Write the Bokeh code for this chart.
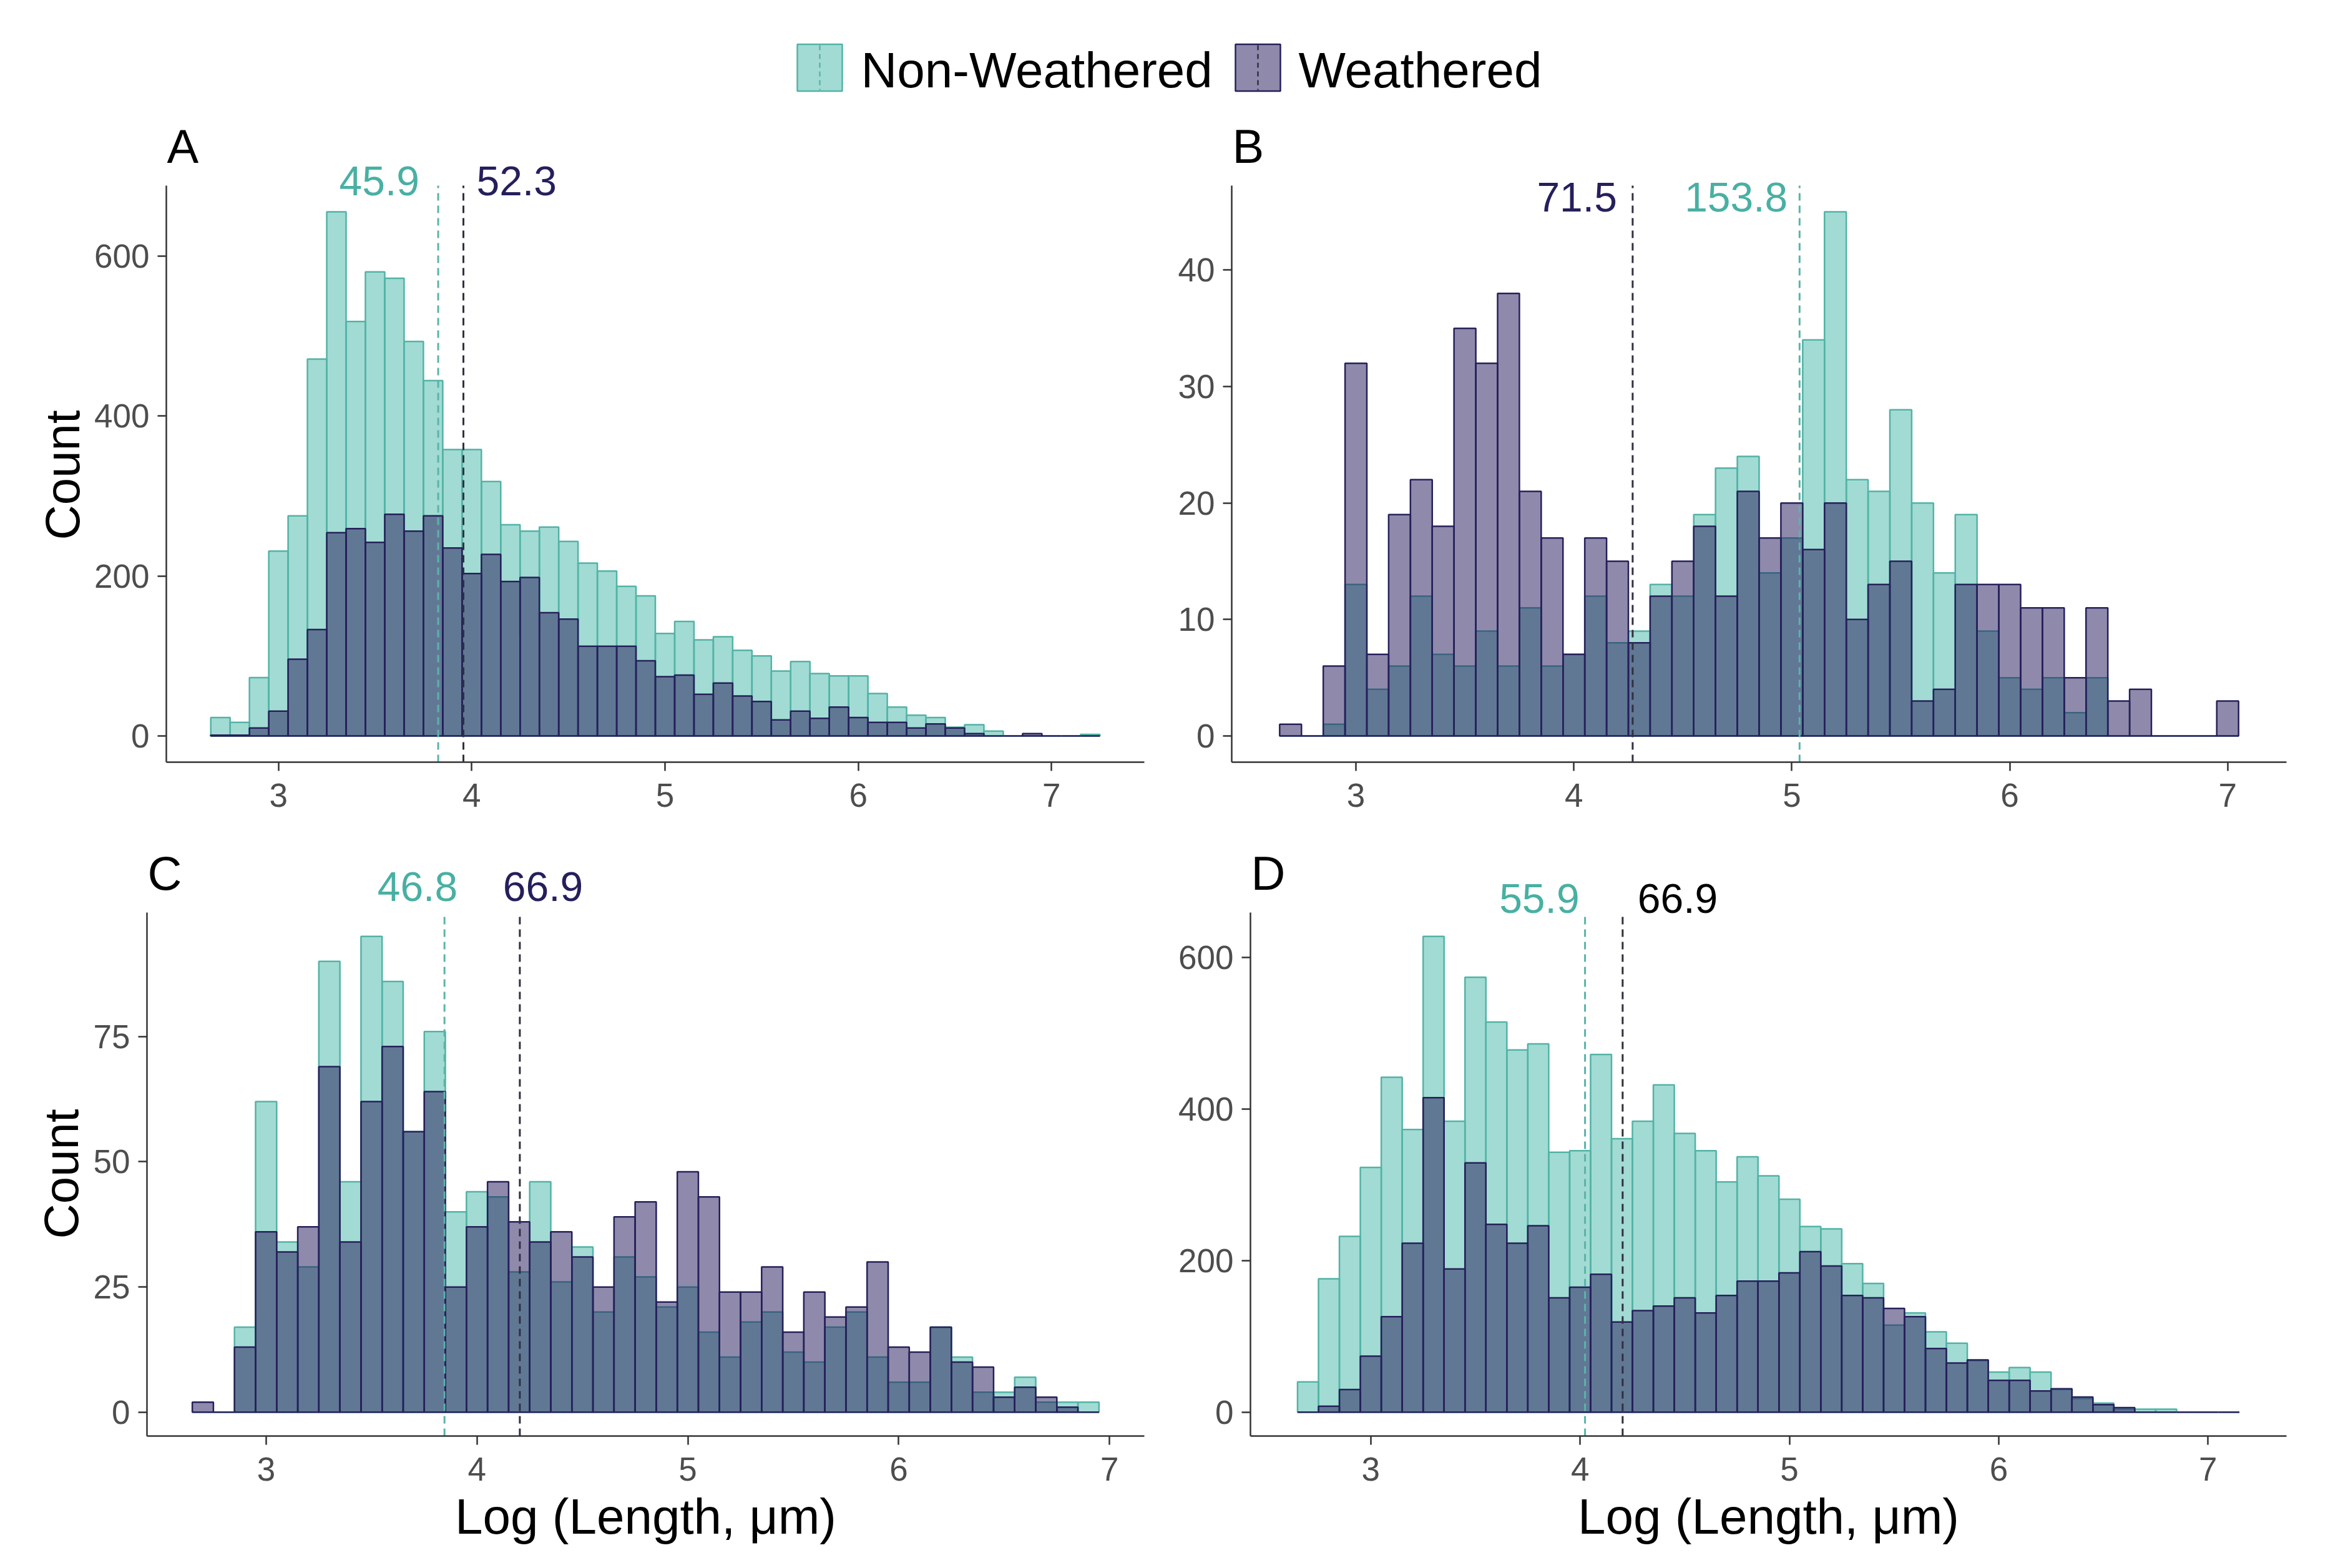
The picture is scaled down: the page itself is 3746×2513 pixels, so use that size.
import numpy as np
from bokeh.plotting import figure
from bokeh.models import Range1d, Label, FixedTicker, ColumnDataSource, Title
from bokeh.layouts import column, row
from bokeh.core.properties import value
from bokeh.embed import file_html
from bokeh.resources import INLINE

# ---------------- data (counts per 0.1-wide bin of log length, first bin 2.65-2.75) ----------------
BIN_START = 2.65
BIN_WIDTH = 0.1

a_nonweathered = [23, 17, 73, 231, 275, 471, 655, 518, 580, 572, 493, 444, 358, 358, 318, 264, 256, 261,
                  243, 216, 206, 187, 175, 128, 143, 120, 124, 107, 100, 81, 93, 78, 75, 75, 53, 36, 26,
                  23, 11, 14, 6, 0, 0, 0, 0, 2]
a_weathered = [1, 1, 10, 31, 96, 133, 254, 259, 242, 277, 256, 275, 235, 203, 227, 193, 198, 154, 146,
               112, 112, 112, 94, 74, 76, 52, 66, 50, 43, 20, 31, 22, 36, 23, 17, 17, 10, 15, 10, 3, 0,
               0, 3, 0, 0, 0]

b_nonweathered = [0, 0, 1, 13, 4, 6, 12, 7, 6, 9, 6, 11, 6, 7, 12, 8, 9, 13, 12, 19, 23, 24, 14, 17, 34,
                  45, 22, 21, 28, 20, 14, 19, 9, 5, 4, 5, 2, 5, 0, 0, 0, 0, 0, 0]
b_weathered = [1, 0, 6, 32, 7, 19, 22, 18, 35, 32, 38, 21, 17, 7, 17, 15, 8, 12, 15, 18, 12, 21, 17, 20,
               16, 20, 10, 13, 15, 3, 4, 13, 13, 13, 11, 11, 5, 11, 3, 4, 0, 0, 0, 3]

c_nonweathered = [0, 0, 17, 62, 34, 29, 90, 46, 95, 86, 56, 76, 40, 44, 43, 28, 46, 26, 33, 20, 31, 27,
                  21, 25, 16, 11, 18, 20, 12, 10, 17, 20, 11, 6, 6, 17, 11, 4, 4, 7, 2, 2, 2]
c_weathered = [2, 0, 13, 36, 32, 37, 69, 34, 62, 73, 56, 64, 25, 37, 46, 38, 34, 36, 31, 25, 39, 42, 22,
               48, 43, 24, 24, 29, 16, 24, 19, 21, 30, 13, 12, 17, 10, 9, 3, 5, 3, 1, 0]

d_nonweathered = [40, 176, 232, 323, 442, 373, 628, 384, 574, 515, 478, 486, 343, 345, 472, 361, 384, 432,
                  368, 345, 304, 337, 312, 281, 245, 242, 196, 170, 115, 131, 106, 91, 68, 53, 59, 53, 30,
                  18, 12, 4, 4, 4, 0, 0, 0]
d_weathered = [0, 8, 30, 74, 126, 223, 415, 189, 329, 248, 223, 246, 151, 165, 182, 119, 134, 140, 151,
               131, 154, 173, 173, 184, 212, 193, 154, 151, 137, 126, 84, 65, 69, 42, 42, 28, 31, 20, 10,
               6, 0, 0, 0, 0, 0]

# median lengths (µm) shown in each panel: (Non-Weathered, Weathered)
medians_a = [45.9, 52.3]
medians_b = [153.8, 71.5]
medians_c = [46.8, 66.9]
medians_d = [55.9, 66.9]

x_ticks = [3, 4, 5, 6, 7]
y_ticks_a = [0, 200, 400, 600]
y_ticks_b = [0, 10, 20, 30, 40]
y_ticks_c = [0, 25, 50, 75]
y_ticks_d = [0, 200, 400, 600]

series_names = ["Non-Weathered", "Weathered"]
x_title = "Log (Length, μm)"
y_title = "Count"

# ---------------- styles ----------------
FONT = "Liberation Sans"
TEAL = "#45b7a7"
TEAL_LINE = "#52b3a6"
NAVY = "#1f1557"
NAVY_LINE = "#25205a"
TEAL_TEXT = "#48b0a3"
NAVY_TEXT = "#251f5c"
AXIS_COL = "#333333"
TICK_TEXT = "#4d4d4d"
DASH_TEAL = "#5ab4a9"
DASH_DARK = "#303040"


def make_panel(nw, w, meds, yticks, letter, width, height, bl, bt, br, bb, axis_px, ext_px,
               label_specs, ylab_offset=None, xlab=False):
    n = len(nw)
    left = [BIN_START + i * BIN_WIDTH for i in range(n)]
    right = [l + BIN_WIDTH for l in left]
    lo, hi = BIN_START, BIN_START + n * BIN_WIDTH
    pad = 0.05 * (hi - lo)
    ymax = max(max(nw), max(w))
    ybot, ytop = -0.05 * ymax, 1.05 * ymax
    yend = ytop + ext_px * (ytop - ybot) / axis_px   # room above the axis for annotations
    p = figure(width=width, height=height, output_backend="svg", toolbar_location=None,
               x_range=Range1d(lo - pad, hi + pad), y_range=Range1d(ybot, yend),
               min_border_left=bl, min_border_top=bt, min_border_right=br, min_border_bottom=bb)
    p.background_fill_color = "white"
    p.border_fill_color = "white"
    p.outline_line_color = None
    p.xgrid.visible = False
    p.ygrid.visible = False

    src_nw = ColumnDataSource(dict(left=left, right=right, top=nw, bottom=[0] * n))
    src_w = ColumnDataSource(dict(left=left, right=right, top=w, bottom=[0] * n))
    p.quad(left="left", right="right", top="top", bottom="bottom", source=src_nw,
           fill_color=TEAL, fill_alpha=0.5, line_color=TEAL_LINE, line_width=2.5)
    p.quad(left="left", right="right", top="top", bottom="bottom", source=src_w,
           fill_color=NAVY, fill_alpha=0.5, line_color=NAVY_LINE, line_width=2.5)

    logm = [float(np.log(m)) for m in meds]
    p.segment(x0=logm, y0=ybot, x1=logm, y1=ytop, line_color=[DASH_TEAL, DASH_DARK],
              line_dash="12 8", line_width=3)

    for idx, color, align, xo, yo in label_specs:
        m = meds[idx]
        p.add_layout(Label(x=logm[idx], y=ytop, text="%.1f" % m, text_align=align,
                           text_baseline="middle", x_offset=xo, y_offset=yo,
                           text_font=FONT, text_font_size="66px", text_color=color))

    p.add_layout(Label(x=lo - pad, y=ytop, text=letter, text_align="left",
                       text_baseline="alphabetic", x_offset=1, y_offset=63,
                       text_font=FONT, text_font_size="76px", text_color="black"))

    for ax in (p.xaxis[0], p.yaxis[0]):
        ax.axis_line_color = AXIS_COL
        ax.axis_line_width = 2.5
        ax.major_tick_line_color = AXIS_COL
        ax.major_tick_line_width = 2.5
        ax.major_tick_out = 14
        ax.major_tick_in = 0
        ax.minor_tick_line_color = None
        ax.major_label_text_font = FONT
        ax.major_label_text_font_size = "53px"
        ax.major_label_text_color = TICK_TEXT
        ax.axis_label_text_font = FONT
        ax.axis_label_text_font_style = "normal"
        ax.axis_label_text_color = "black"
    p.yaxis.bounds = (ybot, ytop)
    p.xaxis.ticker = FixedTicker(ticks=x_ticks)
    p.yaxis.ticker = FixedTicker(ticks=yticks)
    p.xaxis.major_label_standoff = 20
    p.yaxis.major_label_standoff = 13
    if ylab_offset is not None:
        p.add_layout(Title(text=y_title, align="left", offset=ylab_offset, vertical_align="middle",
                           text_font=FONT, text_font_size="78px", text_font_style="normal",
                           text_color="black", standoff=8), "left")
    if xlab:
        p.xaxis.axis_label = x_title
        p.xaxis.axis_label_text_font_size = "80px"
        p.xaxis.axis_label_standoff = 10
    return p


pA = make_panel(a_nonweathered, a_weathered, medians_a, y_ticks_a, "A", 1872, 1135, 266, 0, 39, 101, 924, 110,
                [(0, TEAL_TEXT, "right", -30, 8), (1, NAVY_TEXT, "left", 21, 8)], ylab_offset=356)
pB = make_panel(b_nonweathered, b_weathered, medians_b, y_ticks_b, "B", 1858, 1135, 101, 0, 67, 101, 924, 110,
                [(1, NAVY_TEXT, "right", -25, -18), (0, TEAL_TEXT, "right", -19, -18)])
pC = make_panel(c_nonweathered, c_weathered, medians_c, y_ticks_c, "C", 1872, 1175, 235, 35, 39, 196, 839, 105,
                [(0, TEAL_TEXT, "right", 21, 42), (1, NAVY_TEXT, "left", -27, 42)], ylab_offset=316, xlab=True)
pD = make_panel(d_nonweathered, d_weathered, medians_d, y_ticks_d, "D", 1858, 1175, 131, 35, 67, 196, 839, 105,
                [(0, TEAL_TEXT, "right", -9, 23), (1, "black", "left", 24, 23)], xlab=True)

# ---------------- legend strip ----------------
leg = figure(width=3730, height=187, output_backend="svg", toolbar_location=None,
             x_range=Range1d(8, 3738), y_range=Range1d(195, 8), min_border=0)
leg.axis.visible = False
leg.xgrid.visible = False
leg.ygrid.visible = False
leg.outline_line_color = None
leg.background_fill_color = "white"
leg.border_fill_color = "white"
leg_src = ColumnDataSource(dict(x=[1321, 2023], y=[116, 116], fill=[TEAL, NAVY],
                                line=[TEAL_LINE, NAVY_LINE], dash=[DASH_TEAL, DASH_DARK],
                                tx=[1387, 2088], label=series_names))
leg.rect(x="x", y="y", width=72, height=75, source=leg_src, fill_color="fill", fill_alpha=0.5,
         line_color="line", line_width=2.5)
leg.segment(x0="x", y0=80, x1="x", y1=152, source=leg_src, line_color="dash", line_width=2.5,
            line_dash="8 6")
leg.text(x="tx", y=120, text="label", source=leg_src, text_font=value(FONT), text_font_size="80px",
         text_baseline="alphabetic", text_align="left", text_color="black")

layout = column(leg, row(pA, pB), row(pC, pD))
open("out.html", "w").write(file_html(layout, INLINE))
